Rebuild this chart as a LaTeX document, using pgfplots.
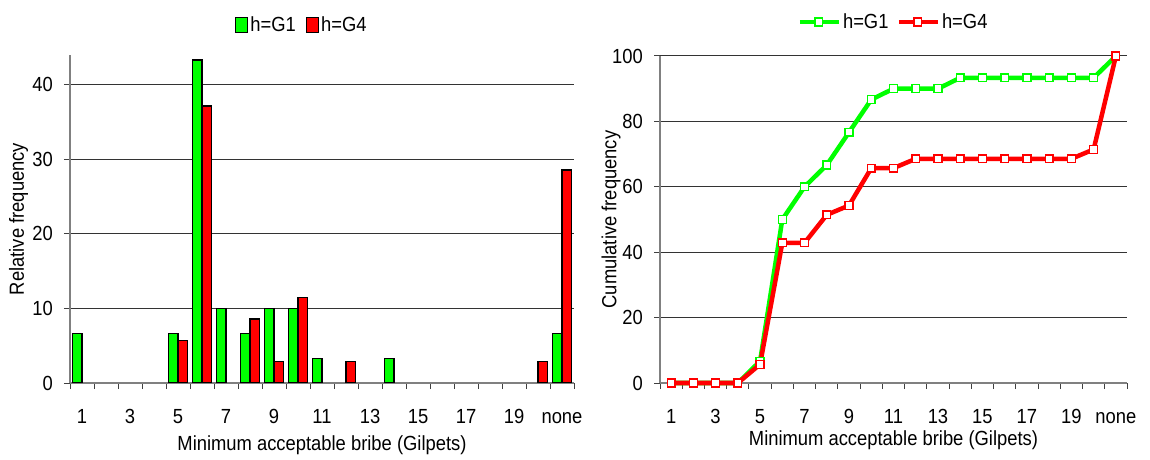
\documentclass[border=0pt]{standalone}
\usepackage{fontspec}
\setmainfont{Liberation Sans}[FakeStretch=0.9]
\usepackage{pgfplots}
\pgfplotsset{compat=1.18}

\definecolor{xgreen}{RGB}{0,255,0}
\definecolor{xred}{RGB}{255,0,0}
\definecolor{axgray}{RGB}{128,128,128}

\pgfplotsset{
  bribe/.style={
    scale only axis,
    xmin=0.5, xmax=21.5,
    ymin=0,
    axis x line=bottom, axis y line=left,
    x axis line style={-, axgray, line width=1.5bp},
    y axis line style={-, axgray, line width=1.5bp},
    tick align=outside,
    major tick length=6bp,
    tick style={black!75, line width=1bp},
    xtick={0.5,1.5,...,21.5},
    xticklabels={},
    extra x ticks={1,3,5,7,9,11,13,15,17,19,21},
    extra x tick labels={1,3,5,7,9,11,13,15,17,19,none},
    extra x tick style={major tick length=0pt, grid=none,
      xticklabel style={anchor=base, inner sep=0pt, yshift=-40bp}},
    yticklabel style={anchor=east, inner sep=0pt, xshift=-11bp},
    /pgf/number format/assume math mode=true,
    ymajorgrids=true,
    grid style={black!80, line width=1bp},
    font=\fontsize{20.5}{24}\selectfont,
    ticklabel style={font=\fontsize{20.5}{24}\selectfont},
    xlabel={Minimum acceptable bribe (Gilpets)},
    legend cell align=left,
  }
}

\begin{document}
\begin{tikzpicture}
% left: relative frequency
\begin{axis}[bribe,
  at={(70bp,77bp)}, anchor=south west,
  width=504bp, height=328bp,
  ymax=44,
  ytick={0,10,20,30,40},
  ybar, bar width=0.4,
  ylabel={Relative frequency},
  ylabel style={at={(axis description cs:-0.102,0.5)}, anchor=center},
  xlabel style={at={(axis description cs:0.5,-0.19)}, anchor=center},
  legend style={at={(axis description cs:0.46,1.091)}, anchor=center,
    draw=none, fill=none, legend columns=2,
    /tikz/every even column/.append style={column sep=8bp}},
  legend image code/.code={\draw[#1] (0bp,-7.5bp) rectangle (12bp,7.5bp);},
]
\addplot[bar shift=-0.2, fill=xgreen, draw=black, line width=1.3bp]
  coordinates {(1,6.67)(5,6.67)(6,43.33)(7,10)(8,6.67)(9,10)(10,10)(11,3.33)(14,3.33)(21,6.67)};
\addplot[bar shift=0.2, fill=xred, draw=black, line width=1.3bp]
  coordinates {(5,5.71)(6,37.14)(8,8.57)(9,2.86)(10,11.43)(12,2.86)(20,2.86)(21,28.57)};
\legend{h=G1,h=G4}
\end{axis}

% right: cumulative frequency
\begin{axis}[bribe,
  at={(660bp,77bp)}, anchor=south west,
  width=467bp, height=327bp,
  ymax=100,
  ytick={0,20,40,60,80,100},
  clip=false,
  ylabel={Cumulative frequency},
  ylabel style={at={(axis description cs:-0.105,0.5)}, anchor=center},
  xlabel style={at={(axis description cs:0.5,-0.174)}, anchor=center},
  legend style={at={(axis description cs:0.5,1.104)}, anchor=center,
    draw=none, fill=none, legend columns=2,
    /tikz/every even column/.append style={column sep=6bp}},
  legend image code/.code={\draw[mark repeat=2,mark phase=2,#1]
    plot coordinates {(0bp,0bp) (19bp,0bp) (39bp,0bp)};},
]
\addplot[xgreen, line width=4.5bp, mark=square*, mark size=3.9bp,
  mark options={fill=white, draw=xgreen, line width=1.4bp}]
  coordinates {(1,0)(2,0)(3,0)(4,0)(5,6.67)(6,50)(7,60)(8,66.67)(9,76.67)(10,86.67)(11,90)(12,90)(13,90)(14,93.33)(15,93.33)(16,93.33)(17,93.33)(18,93.33)(19,93.33)(20,93.33)(21,100)};
\addplot[xred, line width=4.5bp, mark=square*, mark size=3.9bp,
  mark options={fill=white, draw=xred, line width=1.4bp}]
  coordinates {(1,0)(2,0)(3,0)(4,0)(5,5.71)(6,42.86)(7,42.86)(8,51.43)(9,54.29)(10,65.71)(11,65.71)(12,68.57)(13,68.57)(14,68.57)(15,68.57)(16,68.57)(17,68.57)(18,68.57)(19,68.57)(20,71.43)(21,100)};
\legend{h=G1,h=G4}
\end{axis}

\pgfresetboundingbox
\path[use as bounding box] (0,0) rectangle (1150bp,460bp);
\end{tikzpicture}
\end{document}
